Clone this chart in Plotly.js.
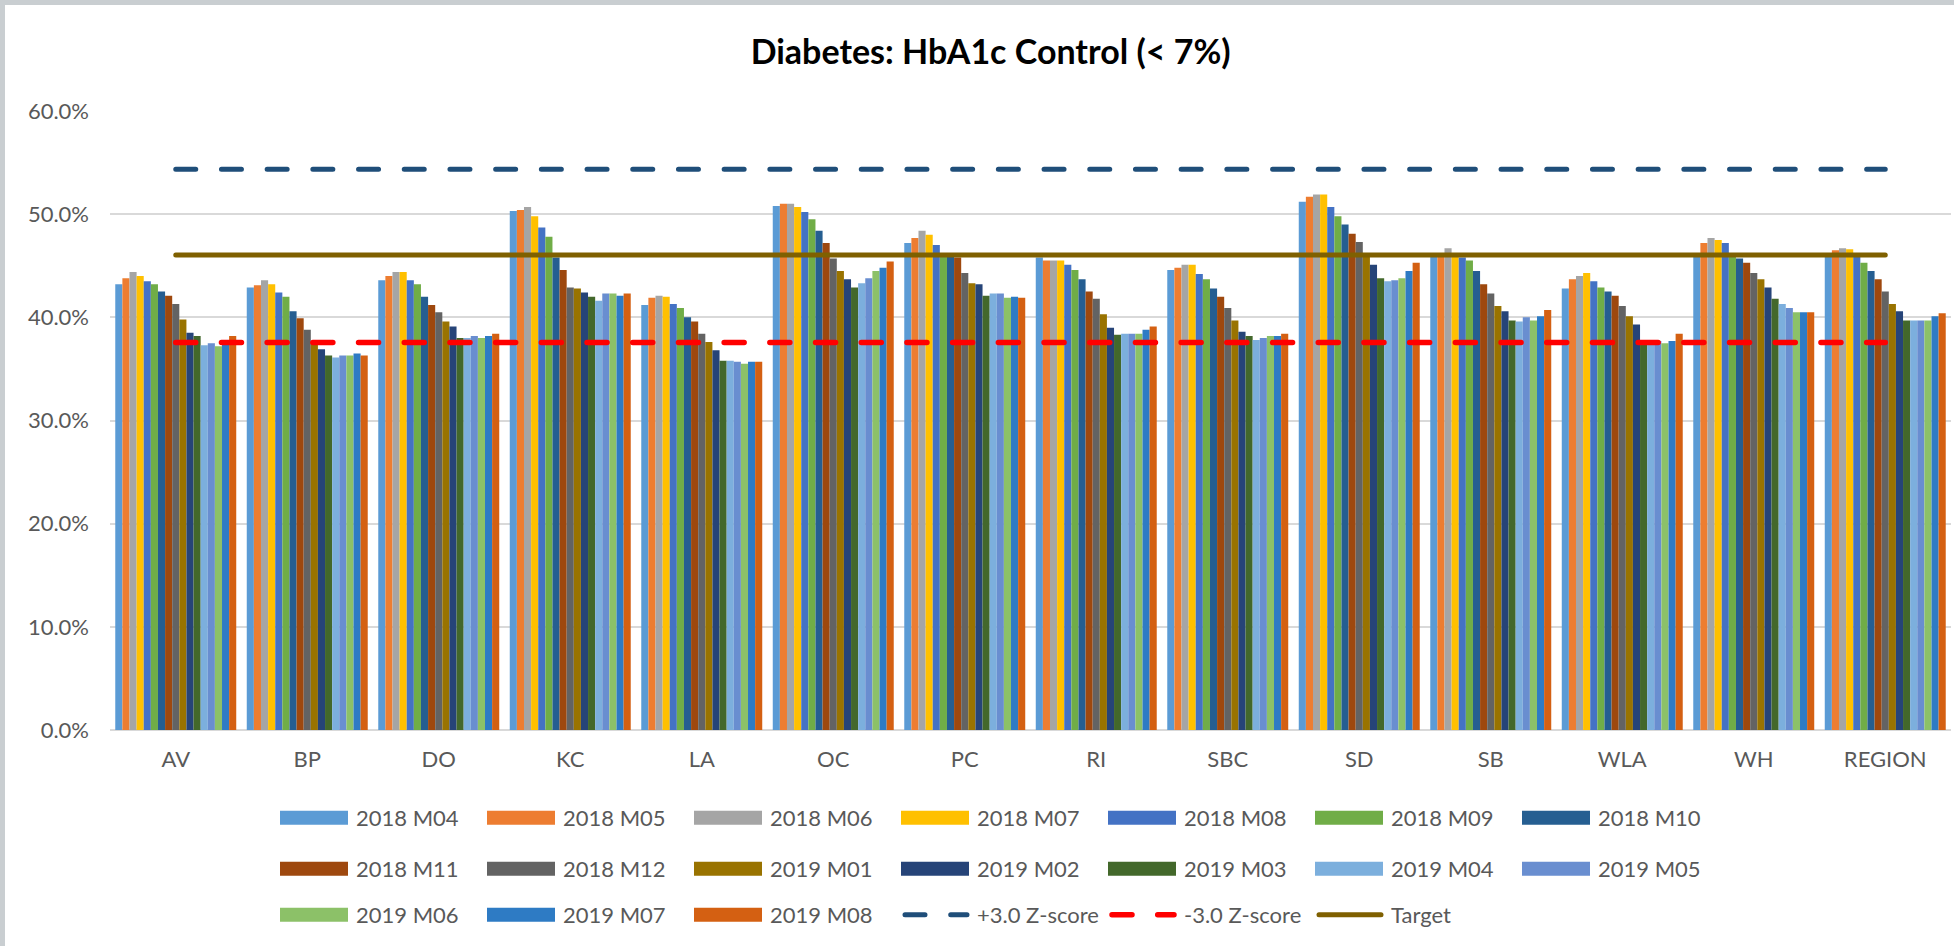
<!DOCTYPE html>
<html>
<head>
<meta charset="utf-8">
<script src="https://cdn.plot.ly/plotly-3.0.1.min.js"></script>
<style>
  html, body { margin: 0; padding: 0; background: #fff; }
  #chart { width: 1954px; height: 946px; }
  .scatterlayer .js-line { stroke-linecap: round; }
  .infolayer .legendlines path { stroke-linecap: round; }
  #topbar { position: absolute; left: 0; top: 0; width: 1954px; height: 5px; background: #c9ced1; }
  #leftbar { position: absolute; left: 0; top: 0; width: 5px; height: 946px; background: #c9ced1; }
</style>
</head>
<body>
<div id="chart"></div>
<div id="topbar"></div>
<div id="leftbar"></div>
<script>
// ---------- DATA ----------
var categories = ['AV','BP','DO','KC','LA','OC','PC','RI','SBC','SD','SB','WLA','WH','REGION'];

var seriesNames = ['2018 M04','2018 M05','2018 M06','2018 M07','2018 M08','2018 M09','2018 M10',
                   '2018 M11','2018 M12','2019 M01','2019 M02','2019 M03','2019 M04','2019 M05',
                   '2019 M06','2019 M07','2019 M08'];

var m2018_04 = [43.2, 42.9, 43.6, 50.3, 41.2, 50.8, 47.2, 45.8, 44.6, 51.2, 46.0, 42.8, 45.9, 46.1];
var m2018_05 = [43.8, 43.1, 44.0, 50.4, 41.9, 51.0, 47.7, 45.5, 44.8, 51.7, 46.0, 43.7, 47.2, 46.5];
var m2018_06 = [44.4, 43.6, 44.4, 50.7, 42.1, 51.0, 48.4, 45.5, 45.1, 51.9, 46.7, 44.0, 47.7, 46.7];
var m2018_07 = [44.0, 43.2, 44.4, 49.8, 42.0, 50.7, 48.0, 45.5, 45.1, 51.9, 46.1, 44.3, 47.5, 46.6];
var m2018_08 = [43.5, 42.4, 43.6, 48.7, 41.3, 50.2, 47.0, 45.1, 44.2, 50.7, 45.8, 43.5, 47.2, 45.9];
var m2018_09 = [43.2, 42.0, 43.2, 47.8, 40.9, 49.5, 46.0, 44.6, 43.7, 49.8, 45.5, 42.9, 46.0, 45.3];
var m2018_10 = [42.5, 40.6, 42.0, 45.8, 40.0, 48.4, 45.9, 43.7, 42.8, 49.0, 44.5, 42.5, 45.7, 44.5];
var m2018_11 = [42.1, 39.9, 41.2, 44.6, 39.6, 47.2, 45.8, 42.5, 42.0, 48.1, 43.2, 42.1, 45.3, 43.7];
var m2018_12 = [41.3, 38.8, 40.5, 42.9, 38.4, 45.7, 44.3, 41.8, 40.9, 47.3, 42.3, 41.1, 44.3, 42.5];
var m2019_01 = [39.8, 37.6, 39.6, 42.8, 37.6, 44.5, 43.3, 40.3, 39.7, 45.9, 41.1, 40.1, 43.7, 41.3];
var m2019_02 = [38.5, 36.9, 39.1, 42.4, 36.8, 43.7, 43.2, 39.0, 38.6, 45.1, 40.6, 39.3, 42.9, 40.6];
var m2019_03 = [38.2, 36.3, 38.0, 42.0, 35.8, 42.9, 42.1, 38.3, 38.2, 43.8, 39.7, 37.6, 41.8, 39.7];
var m2019_04 = [37.3, 36.1, 38.0, 41.6, 35.8, 43.3, 42.3, 38.4, 37.8, 43.5, 39.6, 37.7, 41.3, 39.7];
var m2019_05 = [37.5, 36.3, 38.2, 42.3, 35.7, 43.8, 42.3, 38.4, 38.0, 43.6, 40.0, 37.7, 40.9, 39.7];
var m2019_06 = [37.2, 36.3, 38.0, 42.3, 35.5, 44.5, 41.9, 38.4, 38.2, 43.8, 39.7, 37.5, 40.5, 39.7];
var m2019_07 = [37.5, 36.5, 38.2, 42.1, 35.7, 44.8, 42.0, 38.8, 38.2, 44.5, 40.1, 37.7, 40.5, 40.1];
var m2019_08 = [38.2, 36.3, 38.4, 42.3, 35.7, 45.4, 41.9, 39.1, 38.4, 45.3, 40.7, 38.4, 40.5, 40.4];

var plusZ   = [54.35, 54.35, 54.35, 54.35, 54.35, 54.35, 54.35, 54.35, 54.35, 54.35, 54.35, 54.35, 54.35, 54.35];
var minusZ  = [37.55, 37.55, 37.55, 37.55, 37.55, 37.55, 37.55, 37.55, 37.55, 37.55, 37.55, 37.55, 37.55, 37.55];
var target  = [46.05, 46.05, 46.05, 46.05, 46.05, 46.05, 46.05, 46.05, 46.05, 46.05, 46.05, 46.05, 46.05, 46.05];

var yTickVals  = [0, 10, 20, 30, 40, 50, 60];
var yTickText  = ['0.0%', '10.0%', '20.0%', '30.0%', '40.0%', '50.0%', '60.0%'];

// ---------- STYLE ----------
var seriesValues = [m2018_04, m2018_05, m2018_06, m2018_07, m2018_08, m2018_09, m2018_10,
                    m2018_11, m2018_12, m2019_01, m2019_02, m2019_03, m2019_04, m2019_05,
                    m2019_06, m2019_07, m2019_08];
var seriesColors = ['#5B9BD5','#ED7D31','#A5A5A5','#FFC000','#4472C4','#70AD47','#255E91',
                    '#9E480E','#636363','#997300','#264478','#43682B','#7CAFDD','#698ED0',
                    '#8CC168','#2E7BC4','#D46012'];

var FONT = 'Lato, "Liberation Sans", Arial, sans-serif';
var GRAY = '#595959';

var traces = [];
seriesNames.forEach(function (nm, i) {
  var lg = i < 7 ? 'legend' : (i < 14 ? 'legend2' : 'legend3');
  traces.push({
    type: 'bar', name: nm, x: categories, y: seriesValues[i],
    marker: { color: seriesColors[i], line: { width: 0 } },
    legend: lg, hoverinfo: 'name+y'
  });
});
traces.push({ type: 'scatter', mode: 'lines', name: '+3.0 Z-score', x: categories, y: plusZ,
  line: { color: '#1F4E79', width: 5, dash: '20px,25.7px' }, legend: 'legend3' });
traces.push({ type: 'scatter', mode: 'lines', name: '-3.0 Z-score', x: categories, y: minusZ,
  line: { color: '#FF0000', width: 5.5, dash: '20px,25.7px' }, legend: 'legend3' });
traces.push({ type: 'scatter', mode: 'lines', name: 'Target', x: categories, y: target,
  line: { color: '#7F6000', width: 5 }, legend: 'legend3' });

function legendCfg(yPix) {
  return {
    orientation: 'h', xref: 'paper', yref: 'paper',
    x: (276 - 110) / 1841, xanchor: 'left',
    y: -(yPix - 730) / 619, yanchor: 'top',
    entrywidth: 122, entrywidthmode: 'pixels', itemwidth: 70,
    traceorder: 'normal', bgcolor: 'rgba(0,0,0,0)', borderwidth: 0,
    font: { family: FONT, size: 22, color: GRAY }
  };
}

var layout = {
  width: 1954, height: 946, autosize: false,
  margin: { l: 110, r: 3, t: 111, b: 216, pad: 0, autoexpand: false },
  paper_bgcolor: '#ffffff', plot_bgcolor: '#ffffff',
  title: { text: '<b>Diabetes: HbA1c Control (< 7%)</b>', x: 0.507, xref: 'container', xanchor: 'center',
           y: 1 - 52 / 946, yref: 'container', yanchor: 'middle',
           font: { family: FONT, size: 34, color: '#000000' } },
  barmode: 'group', bargap: 0.08, bargroupgap: 0,
  xaxis: { type: 'category', showgrid: false, zeroline: false, showline: false, ticks: '',
           tickfont: { family: FONT, size: 22, color: GRAY }, ticklabelstandoff: 14, fixedrange: true },
  yaxis: { range: [0, 60], tickmode: 'array', tickvals: yTickVals, ticktext: yTickText,
           showgrid: true, gridcolor: '#D9D9D9', gridwidth: 2, zeroline: true, zerolinecolor: '#D9D9D9',
           zerolinewidth: 2, showline: false, ticks: '', ticklabelstandoff: 20,
           tickfont: { family: FONT, size: 22, color: GRAY }, fixedrange: true },
  legend: legendCfg(797),
  legend2: legendCfg(848),
  legend3: legendCfg(894),
  showlegend: true
};

Plotly.newPlot('chart', traces, layout, { displayModeBar: false, staticPlot: true }).then(function () {
  // widen legend swatches to look like the original wide keys (all three legends)
  document.querySelectorAll('.infolayer g.traces').forEach(function (tr) {
    tr.querySelectorAll('.legendpoints path').forEach(function (p) {
      p.setAttribute('d', 'M4,-7H72V7H4Z');
      p.removeAttribute('transform');
    });
    tr.querySelectorAll('.legendlines path').forEach(function (p) {
      p.setAttribute('d', 'M8,0H70');
    });
  });
});
</script>
</body>
</html>
